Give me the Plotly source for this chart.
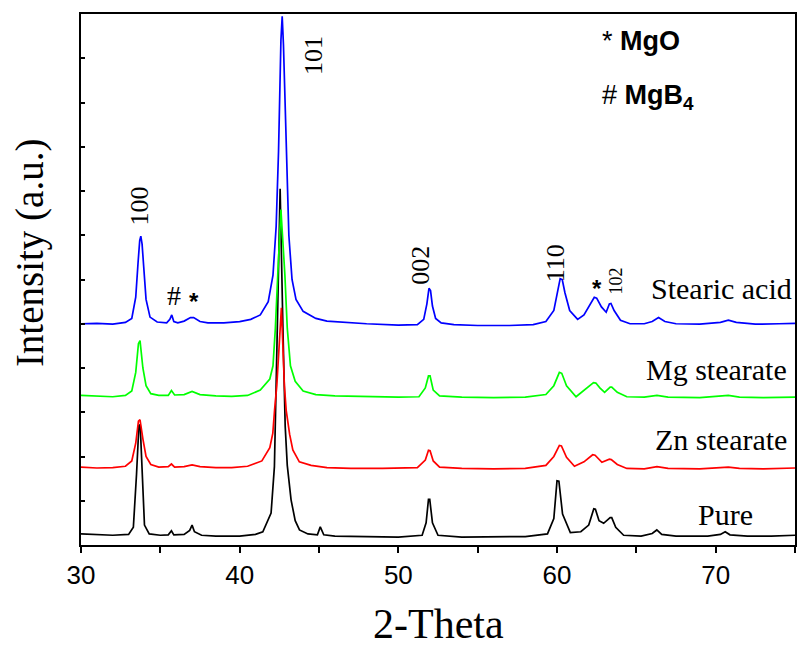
import plotly.graph_objects as go

# ---------------- data ----------------
stearic_x = [30, 31, 32, 32.8, 33.2, 33.45, 33.6, 33.7, 33.77, 33.85, 33.95, 34.1, 34.35, 34.8, 35.4, 35.6,
             35.72, 35.85, 36.1, 36.5, 36.9, 37.1, 37.5, 38, 39, 40, 40.7, 41.3, 41.8, 42.1, 42.3, 42.45,
             42.6, 42.68, 42.76, 42.95, 43.1, 43.3, 43.55, 44.0, 44.8, 45.5, 46.5, 48, 50, 51.2, 51.6, 51.8,
             51.93, 52.03, 52.15, 52.35, 52.7, 53.5, 55, 57, 58.5, 59.3, 59.8, 60.05, 60.2, 60.33, 60.5,
             60.8, 61.3, 61.7, 62.1, 62.35, 62.5, 62.8, 63.1, 63.3, 63.4, 63.6, 64.0, 64.6, 65.5, 66.0,
             66.4, 66.8, 67.5, 69, 70.3, 70.8, 71.3, 72.5, 74, 75]
stearic_y = [5.0, 5.01, 4.99, 5.03, 5.12, 5.6, 6.4, 6.88, 6.98, 6.8, 6.3, 5.55, 5.15, 5.04, 5.02, 5.1,
             5.2, 5.05, 5.02, 5.06, 5.14, 5.14, 5.05, 5.02, 5.02, 5.05, 5.1, 5.2, 5.5, 6.1, 7.2, 8.9,
             11.4, 11.95, 11.3, 8.6, 7.0, 6.0, 5.55, 5.28, 5.12, 5.06, 5.03, 5.0, 4.97, 4.98, 5.1, 5.45,
             5.8, 5.75, 5.4, 5.12, 5.02, 4.98, 4.96, 4.96, 4.98, 5.05, 5.3, 5.8, 6.02, 6.0, 5.7,
             5.3, 5.1, 5.2, 5.45, 5.6, 5.58, 5.38, 5.26, 5.45, 5.46, 5.3, 5.08, 5.0, 5.0, 5.05,
             5.14, 5.05, 5.0, 4.99, 5.03, 5.08, 5.03, 4.99, 5.0, 5.01]

mg_x = [30, 31, 32, 32.8, 33.2, 33.45, 33.62, 33.72, 33.9, 34.1, 34.4, 34.9, 35.5, 35.7, 35.9, 36.5, 37.0,
        37.5, 38.5, 39.5, 40.5, 41.3, 41.9, 42.1, 42.25, 42.4, 42.6, 42.85, 43.0, 43.2, 43.5, 44.0,
        44.8, 46, 48, 50, 51.3, 51.7, 51.9, 52.0, 52.2, 52.6, 54, 56, 58, 59.3, 59.8, 60.15, 60.3, 60.6,
        61.2, 61.8, 62.3, 62.45, 62.7, 63.0, 63.35, 63.45, 63.8, 64.4, 65.5, 66.3, 67, 69, 70.8, 71.5,
        73, 75]
mg_y = [3.38, 3.36, 3.35, 3.38, 3.48, 3.9, 4.55, 4.62, 4.0, 3.6, 3.42, 3.38, 3.38, 3.49, 3.39, 3.4, 3.47,
        3.4, 3.37, 3.36, 3.38, 3.5, 3.75, 4.05, 4.9, 6.1, 7.58, 6.1, 4.9, 4.05, 3.7, 3.48,
        3.4, 3.37, 3.35, 3.34, 3.35, 3.55, 3.82, 3.82, 3.5, 3.37, 3.34, 3.33, 3.34, 3.4, 3.6, 3.9, 3.88, 3.6,
        3.35, 3.52, 3.67, 3.66, 3.55, 3.45, 3.57, 3.57, 3.45, 3.35, 3.34, 3.38, 3.34, 3.33, 3.38, 3.34,
        3.33, 3.34]

zn_x = [30, 31, 32, 32.8, 33.2, 33.45, 33.62, 33.72, 33.9, 34.1, 34.4, 34.9, 35.5, 35.7, 35.9, 36.5, 37.0,
        37.5, 38.5, 39.5, 40.5, 41.4, 41.9, 42.09, 42.2, 42.34, 42.63, 42.82, 42.93, 43.15, 43.35,
        43.76, 44.5, 45.5, 47, 49, 51.2, 51.7, 51.9, 52.0, 52.2, 52.6, 54, 56, 58, 59.3, 59.8, 60.15,
        60.28, 60.6, 61.1, 61.7, 62.25, 62.4, 62.83, 63.3, 63.42, 63.8, 64.4, 65.5, 66.3, 67, 69, 70.8,
        71.5, 73, 75]
zn_y = [1.76, 1.74, 1.75, 1.78, 1.9, 2.3, 2.8, 2.83, 2.4, 2.0, 1.82, 1.76, 1.77, 1.83, 1.76, 1.77, 1.81,
        1.77, 1.75, 1.75, 1.78, 1.9, 2.2, 2.53, 3.05, 3.6, 5.36, 3.6, 3.05, 2.5, 2.15,
        1.88, 1.8, 1.75, 1.73, 1.73, 1.75, 1.92, 2.14, 2.13, 1.9, 1.76, 1.73, 1.72, 1.73, 1.8, 2.0, 2.25,
        2.24, 1.98, 1.78, 1.88, 2.04, 2.03, 1.87, 1.94, 1.93, 1.82, 1.73, 1.72, 1.77, 1.73, 1.72, 1.76,
        1.73, 1.72, 1.74]

pure_x = [30, 31, 32, 33.0, 33.3, 33.5, 33.65, 33.73, 33.85, 34.0, 34.3, 35, 35.5, 35.7, 35.85, 36.5, 36.85,
          37.0, 37.15, 37.6, 38.5, 40, 41.0, 41.46, 41.98, 42.19, 42.35, 42.55, 42.72, 42.87, 43.0,
          43.24, 43.5, 43.77, 44.3, 44.9, 45.08, 45.3, 46, 48, 50, 51.5, 51.75, 51.9, 51.98, 52.15, 52.5,
          54, 56, 58, 59.4, 59.8, 60.0, 60.12, 60.35, 60.84, 61.5, 62.0, 62.32, 62.42, 62.65, 62.94, 63.35,
          63.45, 63.7, 64.2, 65.3, 66.0, 66.29, 66.6, 67.5, 69.5, 70.3, 70.6, 70.9, 72, 73.5, 75]
pure_y = [0.25, 0.24, 0.22, 0.24, 0.4, 1.6, 2.7, 2.72, 1.5, 0.45, 0.25, 0.22, 0.23, 0.32, 0.23, 0.24, 0.33,
          0.45, 0.3, 0.22, 0.2, 0.2, 0.24, 0.3, 0.72, 1.77, 4.5, 8.05, 5.0, 2.68, 1.8,
          1.02, 0.55, 0.34, 0.25, 0.23, 0.41, 0.23, 0.2, 0.19, 0.18, 0.22, 0.5, 1.03, 1.03, 0.5, 0.22,
          0.18, 0.18, 0.19, 0.25, 0.6, 1.45, 1.44, 0.7, 0.28, 0.3, 0.45, 0.82, 0.81, 0.55, 0.49, 0.62,
          0.62, 0.4, 0.22, 0.2, 0.26, 0.34, 0.24, 0.2, 0.2, 0.24, 0.3, 0.23, 0.2, 0.2, 0.22]

series_names = ["Stearic acid", "Mg stearate", "Zn stearate", "Pure"]
series_colors = ["#0000FF", "#00FF00", "#FF0000", "#000000"]
x_tick_vals = [30, 40, 50, 60, 70]
x_tick_text = ["30", "40", "50", "60", "70"]

# peak labels: (text, x, y)
peak_labels = [("100", 33.71, 7.67), ("101", 44.64, 11.06), ("002", 51.43, 6.31), ("110", 59.92, 6.36)]
# series label centres: (x, y)
series_label_pos = [(70.35, 5.79), (70.05, 3.96), (70.35, 2.38), (70.65, 0.70)]

# ---------------- figure ----------------
fig = go.Figure()
xs = [pure_x, zn_x, mg_x, stearic_x]
ys = [pure_y, zn_y, mg_y, stearic_y]
order = [3, 2, 1, 0]
for xi, yi, idx in zip(xs, ys, order):
    fig.add_trace(go.Scatter(x=xi, y=yi, mode="lines", name=series_names[idx],
                             line=dict(color=series_colors[idx], width=1.7), showlegend=False))

serif = "Liberation Serif, Times New Roman, serif"
sans = "Liberation Sans, Arial, sans-serif"

for txt, x, y in peak_labels:
    fig.add_annotation(x=x, y=y, text=txt, showarrow=False, textangle=-90,
                       font=dict(family=serif, size=26, color="black"))
fig.add_annotation(x=63.69, y=5.97, text="102", showarrow=False, textangle=-90,
                   font=dict(family=serif, size=18, color="black"))
fig.add_annotation(x=62.5, y=5.8, text="<b>*</b>", showarrow=False,
                   font=dict(family=sans, size=24, color="black"))
fig.add_annotation(x=35.85, y=5.63, text="#", showarrow=False,
                   font=dict(family=serif, size=28, color="black"))
fig.add_annotation(x=37.1, y=5.5, text="<b>*</b>", showarrow=False,
                   font=dict(family=sans, size=24, color="black"))

for (x, y), name in zip(series_label_pos, series_names):
    fig.add_annotation(x=x, y=y, text=name, showarrow=False,
                       font=dict(family=serif, size=30, color="black"))

fig.add_annotation(x=62.68, y=11.38, text="* <b>MgO</b>", showarrow=False, xanchor="left",
                   font=dict(family=sans, size=27, color="black"))
fig.add_annotation(x=62.68, y=10.12, text="# <b>MgB<sub>4</sub></b>", showarrow=False, xanchor="left",
                   font=dict(family=sans, size=27, color="black"))

# axis titles as annotations (positioned like the reference)
fig.add_annotation(xref="paper", yref="paper", x=-0.0712, y=0.55, text="Intensity (a.u.)",
                   showarrow=False, textangle=-90, xanchor="center", yanchor="middle",
                   font=dict(family=serif, size=39, color="black"))
fig.add_annotation(xref="paper", yref="paper", x=0.5, y=-0.148, text="2-Theta",
                   showarrow=False, xanchor="center", yanchor="middle",
                   font=dict(family=serif, size=42, color="black"))

fig.update_layout(
    width=799, height=646,
    margin=dict(l=81, r=2, t=14, b=101),
    paper_bgcolor="white", plot_bgcolor="white",
    xaxis=dict(range=[30, 75], tickvals=x_tick_vals, ticktext=x_tick_text,
               ticks="outside", ticklen=6, tickwidth=1.5, tickcolor="black",
               minor=dict(tickvals=[35, 45, 55, 65, 75], ticks="outside", ticklen=6, tickwidth=1.5, tickcolor="black"),
               showline=True, linecolor="black", linewidth=2, mirror=True, showgrid=False, zeroline=False,
               tickfont=dict(family=sans, size=26, color="black")),
    yaxis=dict(range=[0, 12], dtick=1, ticks="inside", ticklen=4, tickwidth=1.5, tickcolor="black",
               showticklabels=False, showline=True, linecolor="black", linewidth=2, mirror=True,
               showgrid=False, zeroline=False),
)

fig.write_html("out.html")
